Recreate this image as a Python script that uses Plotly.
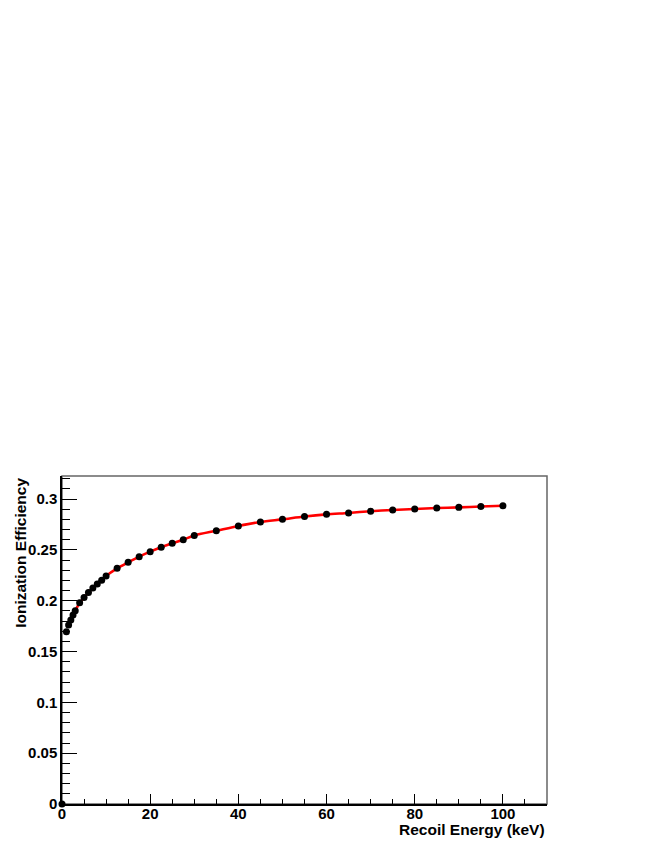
import plotly.graph_objects as go

# Data
energy_keV = [0, 1, 1.5, 2, 2.5, 3, 4, 5, 6, 7, 8, 9, 10,
              12.5, 15, 17.5, 20, 22.5, 25, 27.5, 30,
              35, 40, 45, 50, 55, 60, 65, 70, 75, 80, 85, 90, 95, 100]
ion_eff = [0.0, 0.1695, 0.1760, 0.1810, 0.1860, 0.1900, 0.1980, 0.2030, 0.2080,
           0.2125, 0.2165, 0.2200, 0.2243,
           0.2318, 0.2377, 0.2433, 0.2482, 0.2525, 0.2564, 0.2600, 0.2641,
           0.2688, 0.2735, 0.2774, 0.2800, 0.2828, 0.2849, 0.2863, 0.2880,
           0.2892, 0.2902, 0.2911, 0.2918, 0.2926, 0.2934]

# Fit curve (red) drawn through the points from 1.5 keV upward
fit_E = energy_keV[2:]
fit_Y = ion_eff[2:]

x_ticks = [0, 20, 40, 60, 80, 100]
y_ticks = [0, 0.05, 0.1, 0.15, 0.2, 0.25, 0.3]

FONT = "Liberation Sans, Arial, Helvetica, sans-serif"

fig = go.Figure()
fig.add_trace(go.Scatter(
    x=fit_E, y=fit_Y, mode="lines",
    line=dict(color="#ff0000", width=2.6, shape="spline", smoothing=0.8),
    hoverinfo="skip", showlegend=False,
))
fig.add_trace(go.Scatter(
    x=energy_keV, y=ion_eff, mode="markers",
    marker=dict(color="black", size=7),
    cliponaxis=False, showlegend=False,
))

# page body has an 8px margin, so the figure is sized and offset to compensate
fig.update_layout(
    width=646, height=838,
    margin=dict(l=54, r=107, t=468, b=42, autoexpand=False),
    paper_bgcolor="white", plot_bgcolor="white",
    font=dict(family=FONT, size=15, color="black"),
    showlegend=False,
    shapes=[dict(type="rect", xref="paper", yref="paper", x0=0, x1=1, y0=0, y1=1,
                 line=dict(color="#666666", width=1.5), layer="below")],
    annotations=[
        dict(text="Recoil Energy (keV)", xref="paper", yref="paper",
             x=1.0, y=-0.079, xanchor="right", yanchor="middle", showarrow=False,
             font=dict(family=FONT, size=15.5, color="black", weight="bold")),
        dict(text="Ionization Efficiency", xref="paper", yref="paper",
             x=-0.087, y=1.0, xanchor="center", yanchor="top", textangle=-90,
             showarrow=False,
             font=dict(family=FONT, size=15.5, color="black", weight="bold")),
    ],
)

fig.update_xaxes(
    range=[0, 110], tickmode="array", tickvals=x_ticks,
    ticktext=[str(v) for v in x_ticks],
    ticks="inside", ticklen=10, tickwidth=1.2, tickcolor="black",
    minor=dict(dtick=5, ticks="inside", ticklen=5, tickwidth=1.2, tickcolor="black"),
    showline=True, linecolor="black", linewidth=1.5, mirror=False,
    showgrid=False, zeroline=False, ticklabelstandoff=-5,
    tickfont=dict(family=FONT, size=15, color="black", weight="bold"),
)
fig.update_yaxes(
    range=[0, 0.32263], tickmode="array", tickvals=y_ticks,
    ticktext=["0", "0.05", "0.1", "0.15", "0.2", "0.25", "0.3"],
    ticks="inside", ticklen=15, tickwidth=1.2, tickcolor="black",
    minor=dict(dtick=0.01, ticks="inside", ticklen=8, tickwidth=1.2, tickcolor="black"),
    showline=True, linecolor="black", linewidth=1.5, mirror=False,
    showgrid=False, zeroline=False,
    tickfont=dict(family=FONT, size=15, color="black", weight="bold"),
)

fig.write_html("out.html")
